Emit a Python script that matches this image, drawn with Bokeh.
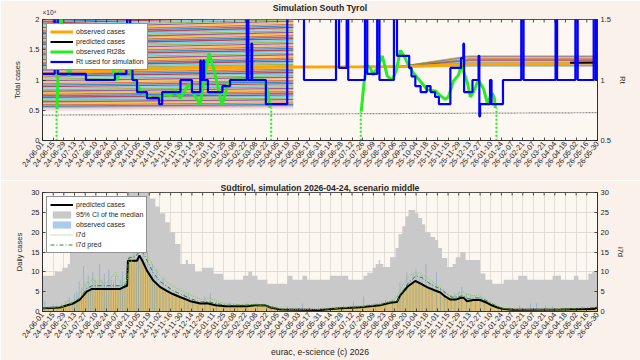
import math
import pandas as pd
from bokeh.plotting import figure
from bokeh.models import Range1d, LinearAxis, FixedTicker, Legend, LegendItem, Label
from bokeh.layouts import column
from bokeh.embed import file_html
from bokeh.resources import INLINE

FONT = "Liberation Sans"
TXT = "#262626"
OUTER = "#FAF1EA"
INNER = "#FDF7F2"
MATLAB = ["#0072BD", "#D95319", "#EDB120", "#7E2F8E", "#77AC30", "#4DBEEE", "#A2142F"]

# ---------------- data (x values are days since start_date) ----------------
start_date = pd.Timestamp("2024-06-01")
tick_labels = ["24-06-01", "24-06-15", "24-06-29", "24-07-13", "24-07-27", "24-08-10", "24-08-24",
               "24-09-07", "24-09-21", "24-10-05", "24-10-19", "24-11-02", "24-11-16", "24-11-30",
               "24-12-14", "24-12-28", "25-01-11", "25-01-25", "25-02-08", "25-02-22", "25-03-08",
               "25-03-22", "25-04-05", "25-04-19", "25-05-03", "25-05-17", "25-05-31", "25-06-14",
               "25-06-28", "25-07-12", "25-07-26", "25-08-09", "25-08-23", "25-09-06", "25-09-20",
               "25-10-04", "25-10-18", "25-11-01", "25-11-15", "25-11-29", "25-12-13", "25-12-27",
               "26-01-10", "26-01-24", "26-02-07", "26-02-21", "26-03-07", "26-03-21", "26-04-04",
               "26-04-18", "26-05-02", "26-05-16", "26-05-30"]
tick_pos = [int((pd.Timestamp("20" + t) - start_date).days) for t in tick_labels]
last_day = tick_pos[-1]

# top panel: simulated total-case ensemble (x 10^4), first block
ens_end_day = 329
ens_start = [0.565, 0.59, 0.615, 0.64, 0.665, 0.69, 0.715, 0.74, 0.765, 0.79, 0.815, 0.84, 0.865, 0.89,
             0.915, 0.94, 0.965, 0.99, 1.015, 1.04, 1.065, 1.09, 1.115, 1.14, 1.165, 1.19, 1.215, 1.24,
             1.265, 1.29, 1.315, 1.34, 1.365, 1.39, 1.415, 1.44, 1.465, 1.49, 1.515, 1.54, 1.565, 1.59,
             1.615, 1.64, 1.665, 1.69, 1.715, 1.74, 1.765, 1.79, 1.815, 1.84, 1.865, 1.89, 1.915, 1.94,
             1.965, 1.99, 2.015, 2.04]
ens_end = [0.595, 0.622, 0.648, 0.675, 0.701, 0.728, 0.754, 0.781, 0.807, 0.834, 0.860, 0.887, 0.913,
           0.940, 0.966, 0.993, 1.019, 1.046, 1.072, 1.099, 1.125, 1.152, 1.178, 1.205, 1.231, 1.258,
           1.284, 1.311, 1.337, 1.364, 1.390, 1.417, 1.443, 1.470, 1.496, 1.523, 1.549, 1.576, 1.602,
           1.629, 1.655, 1.682, 1.708, 1.735, 1.761, 1.788, 1.814, 1.841, 1.867, 1.894, 1.920, 1.947,
           1.973, 2.000, 2.026, 2.053, 2.079, 2.106, 2.132, 2.159]
low_start = [0.50, 0.52, 0.545]
low_end = [0.53, 0.555, 0.575]
low_colors = ["#F3E3E3", "#EBCFCF", "#D8A5A8"]
# second ensemble fan (x 10^4)
fan_day = [470, 560, 728]
fan_start = 1.225
fan_end = [1.235, 1.25, 1.265, 1.28, 1.295, 1.31, 1.325, 1.34, 1.355, 1.37, 1.385, 1.40]

obs_total_day = [0, 40, 75, 140, 206, 329, 420, 480, 560, 692]
obs_total_val = [1.08, 1.12, 1.15, 1.18, 1.205, 1.215, 1.22, 1.225, 1.255, 1.265]
pred_total_day = [692, 728]
pred_total_val = [1.285, 1.29]
ref_total_day = [0, 728]
ref_total_val = [0.42, 0.46]

rt_day = [0, 16, 20, 57, 95, 110, 111, 115, 118, 124, 137, 153, 157, 181, 196, 207, 208, 211, 212,
          217, 236, 246, 268, 270, 274, 275, 293, 321, 343, 385, 389, 399, 401, 423, 426, 439, 442,
          461, 465, 481, 484, 489, 496, 504, 509, 515, 520, 535, 549, 552, 553, 564, 572, 573, 574,
          587, 589, 604, 628, 631, 673, 675, 699, 702, 723, 726, 728]
rt_val = [1.05, 1.6, 1.05, 1.0, 1.05, 1.1, 1.6, 1.1, 1.0, 0.9, 0.85, 0.8, 0.9, 1.0, 0.9, 1.16, 1.0,
          1.16, 1.0, 0.9, 0.95, 1.0, 1.6, 1.0, 1.3, 1.0, 0.8, 1.6, 1.0, 1.6, 1.1, 1.6, 1.0, 1.6, 1.05,
          1.6, 1.0, 1.6, 1.2, 1.1, 1.03, 0.95, 0.9, 0.95, 0.9, 0.86, 0.8, 1.1, 1.18, 1.3, 0.9, 1.0,
          1.2, 0.7, 0.8, 1.0, 0.8, 1.0, 1.6, 1.0, 1.6, 1.0, 1.6, 1.0, 1.6, 1.0, 1.0]

rt28_day_a = [19, 21.7, 24.3, 29.5, 34.8, 40, 46.6, 55.8, 62.4, 70.2, 82.1, 88.6, 93.9, 97.8, 101.7,
              107, 112.2, 120.1, 128, 135.8, 143.7, 151.6, 160.8, 168.7, 174, 180.5, 188.4, 193.6,
              198.9, 206.8, 213.3, 218.6, 225.1, 235.6, 243.5, 248.8, 259.3, 279, 290.8, 294.8, 298.7]
rt28_val_a = [0.76, 1.3, 1.55, 1.2, 1.03, 1.15, 1.3, 1.25, 1.1, 1.3, 1.35, 1.2, 1.05, 1.0, 1.08,
              1.25, 1.12, 1.0, 0.92, 0.87, 0.85, 0.85, 0.88, 0.87, 0.92, 0.85, 0.93, 0.97, 0.88, 0.795,
              1.05, 1.22, 1.08, 0.795, 0.975, 1.0, 1.0, 1.0, 1.0, 0.92, 0.77]
rt28_day_b = [418.1, 422.1, 426, 430, 433.9, 440.5, 445.7, 452.3, 458.9, 464.1, 469.4, 475.9, 479.9,
              486.4, 495.6, 504.8, 515.3, 521.9, 528.4, 532.4, 538.9, 545.5, 549.4, 553.4, 557.3,
              561.2, 565.2, 571.7, 578.3, 583.5, 587.5, 590.1, 592.7, 594]
rt28_val_b = [0.74, 1.0, 1.12, 1.1, 1.04, 1.12, 1.2, 1.03, 1.0, 1.08, 1.246, 1.18, 1.12, 1.06, 0.99,
              0.92, 0.91, 0.87, 0.84, 0.86, 0.99, 1.04, 1.12, 1.05, 0.98, 0.86, 0.9, 1.0, 0.93, 0.81,
              0.86, 0.89, 0.85, 0.77]
rt28_gap_day = [18.5, 300, 417.5, 595.5]
rt28_gap_top = [0.76, 0.77, 0.74, 0.77]

# bottom panel: daily cases
ci_day = [0, 16, 26, 33, 36, 39, 43, 49, 58, 75, 93, 102, 111, 141, 148, 154, 161, 167, 174, 181,
          188, 191, 200, 209, 224, 237, 263, 270, 275, 282, 295, 321, 328, 341, 347, 377, 401, 421,
          426, 433, 437, 441, 443, 447, 456, 463, 467, 472, 476, 480, 489, 493, 498, 502, 509, 515,
          519, 524, 531, 538, 542, 548, 555, 574, 581, 590, 605, 624, 636, 669, 680, 697, 703, 716,
          721, 728]
ci_upper = [9, 10, 11, 12, 15, 17, 18.7, 19.5, 20.6, 21.6, 22.9, 26, 31, 28.5, 26.5, 24.8, 22.5, 20,
            17, 12, 13, 12, 10, 11, 9.5, 8, 9, 10, 9, 8, 7, 9, 8, 9, 8, 9, 8, 9, 9.8, 11, 12, 13, 12,
            11.2, 13.7, 16, 19.5, 21.5, 24, 25.6, 24.8, 23.6, 22, 20, 18.8, 18, 16, 13.5, 11.2, 12,
            13.7, 15, 13, 9.6, 8, 7, 8, 9, 8, 9, 8, 9, 8, 9.5, 10, 10]

pred_day = [0, 23, 40, 49, 58, 65, 102, 108, 111, 112, 124, 127, 131, 137, 145, 154, 163, 171, 181,
            194, 207, 216, 227, 240, 268, 279, 292, 299, 312, 364, 391, 417, 443, 456, 465, 469, 479,
            489, 496, 505, 515, 522, 528, 535, 542, 548, 552, 557, 565, 574, 583, 590, 597, 605, 618,
            680, 723, 728]
pred_val = [0.8, 1.0, 2.0, 3.0, 5.0, 5.7, 5.7, 6.3, 6.5, 12.8, 12.8, 14.1, 12.8, 10.3, 7.9, 6.2, 5.2,
            4.4, 3.6, 2.6, 2.0, 2.1, 1.6, 1.3, 1.3, 1.6, 1.5, 1.0, 0.5, 0.4, 0.8, 1.1, 1.6, 2.2, 2.4,
            4.0, 6.3, 7.7, 7.0, 6.1, 5.3, 4.8, 3.8, 3.0, 3.0, 3.4, 3.5, 2.6, 2.9, 2.9, 2.2, 1.5, 1.0,
            0.6, 0.45, 0.5, 0.6, 1.0]

obs_daily = [(3, 2.5), (8, 1.2), (14, 1.8), (19, 1.5), (25, 2.0), (30, 2.5), (35, 3.5), (39, 2.8),
             (42, 4.5), (45, 5.0), (48, 7.5), (51, 6.0), (54, 11.5), (57, 7.0), (60, 9.0), (63, 6.5),
             (66, 10.0), (69, 8.0), (72, 7.0), (75, 12.0), (78, 8.0), (81, 9.5), (84, 6.5),
             (87, 10.5), (90, 8.0), (93, 7.5), (96, 9.0), (99, 6.5), (102, 8.0), (105, 10.0),
             (108, 7.0), (111, 9.0), (114, 14.0), (117, 12.0), (120, 16.5), (123, 13.5), (126, 17.0),
             (129, 14.0), (132, 16.0), (135, 12.5), (138, 15.0), (141, 11.0), (144, 12.0), (147, 9.0),
             (150, 10.5), (154, 7.5), (158, 8.5), (162, 6.0), (166, 6.5), (170, 5.0), (175, 5.5),
             (180, 4.0), (186, 4.5), (191, 4.4), (197, 3.0), (204, 2.5), (213, 3.8), (220, 4.7),
             (228, 2.5), (238, 2.0), (246, 2.3), (256, 1.8), (268, 2.0), (282, 1.5), (300, 1.0),
             (321, 1.3), (341, 2.0), (362, 1.0), (377, 1.0), (395, 1.5), (408, 2.5), (421, 3.8),
             (437, 2.0), (450, 2.9), (459, 3.0), (466, 4.0), (469, 7.5), (473, 6.0), (478, 10.0),
             (482, 8.0), (486, 9.5), (490, 10.8), (494, 8.5), (498, 9.0), (503, 12.0), (507, 7.5),
             (511, 7.0), (517, 10.0), (522, 6.0), (527, 5.0), (531, 3.5), (536, 4.0), (541, 4.5),
             (546, 5.0), (550, 6.2), (556, 4.5), (562, 4.2), (568, 4.0), (574, 3.8), (580, 3.0),
             (588, 2.0), (598, 1.2), (612, 1.0), (626, 1.5), (640, 2.0), (648, 2.0), (660, 1.5),
             (669, 1.3), (690, 0.8)]
obs_day = [d for d, v in obs_daily]
obs_val = [v for d, v in obs_daily]

i7d_day = [0, 10, 20, 28, 33, 38, 45, 52, 58, 62, 66, 70, 75, 80, 86, 92, 96, 100, 105, 110, 114, 118,
           122, 126, 130, 134, 138, 145, 154, 163, 171, 181, 190, 200, 210, 218, 224, 235, 250, 265,
           280, 295, 310, 340, 360, 380, 400, 420, 440, 455, 462, 468, 475, 482, 488, 495, 502, 510,
           518, 526, 533, 540, 546, 552, 558, 565, 572, 578, 585, 592, 598, 605, 615, 650, 692]
i7d_val = [0.8, 1.0, 1.2, 1.6, 2.8, 2.0, 3.5, 5.5, 7.5, 7.0, 8.5, 7.2, 8.0, 7.0, 7.5, 9.0, 10.0, 8.0,
           7.2, 7.5, 10.0, 14.0, 16.5, 15.5, 17.0, 16.0, 14.0, 11.5, 9.0, 7.5, 6.4, 5.4, 4.6, 3.6, 3.0,
           3.4, 3.0, 2.2, 1.9, 1.7, 1.7, 1.2, 0.7, 0.5, 0.6, 1.0, 1.2, 1.5, 2.0, 2.6, 3.0, 5.0, 7.5,
           9.0, 9.8, 9.6, 8.8, 7.8, 6.5, 5.2, 4.0, 3.8, 4.8, 5.0, 4.3, 4.0, 4.2, 3.5, 2.5, 1.8, 1.2,
           0.8, 0.6, 0.5, 0.6]
i7dp_day = [0, 25, 40, 50, 58, 65, 102, 110, 113, 122, 128, 133, 138, 146, 155, 164, 172, 182, 195,
            207, 216, 228, 240, 268, 280, 292, 300, 315, 365, 392, 418, 444, 458, 466, 470, 480, 490,
            498, 507, 516, 524, 530, 537, 545, 552, 558, 566, 575, 584, 591, 598, 606, 620, 680, 728]
i7dp_val = [0.9, 1.1, 2.3, 3.5, 5.8, 6.5, 6.5, 7.0, 13.5, 13.8, 15.5, 14.5, 12.5, 9.5, 7.5, 6.2, 5.2,
            4.3, 3.2, 2.4, 2.5, 2.0, 1.6, 1.6, 1.8, 1.7, 1.2, 0.6, 0.5, 0.9, 1.2, 1.8, 2.5, 2.8, 4.5,
            7.2, 9.0, 8.5, 7.2, 6.2, 5.5, 4.5, 3.6, 3.7, 4.0, 3.2, 3.4, 3.4, 2.6, 1.8, 1.2, 0.7, 0.5,
            0.6, 1.0]

y_top_ticks = [0, 0.5, 1, 1.5, 2]          # x 10^4
rt_ticks = [0.5, 1, 1.5]
daily_ticks = [0, 5, 10, 15, 20, 25, 30]

W = 640
BL, BR = 42, 43


def style_axis(ax, label_size="7.5px"):
    ax.major_label_text_font = FONT
    ax.major_label_text_font_size = label_size
    ax.major_label_text_color = TXT
    ax.axis_line_color = TXT
    ax.axis_line_width = 0.8
    ax.major_tick_line_color = TXT
    ax.major_tick_line_width = 0.8
    ax.major_tick_in = 3
    ax.major_tick_out = 0
    ax.minor_tick_line_color = None
    ax.major_label_standoff = 3
    ax.axis_label_text_font = FONT
    ax.axis_label_text_font_size = "7.5px"
    ax.axis_label_text_font_style = "normal"
    ax.axis_label_text_color = TXT
    ax.axis_label_standoff = 4


def setup_xaxis(p):
    ax = p.xaxis[0]
    ax.ticker = FixedTicker(ticks=tick_pos)
    ax.major_label_overrides = {t: lab for t, lab in zip(tick_pos, tick_labels)}
    ax.major_label_orientation = 0.9
    style_axis(ax)
    ax.major_label_standoff = 2


def top_ticks(p, ytop):
    # tick marks on the upper box edge (half of each dash is clipped by the frame)
    p.scatter(tick_pos, [ytop] * len(tick_pos), marker="dash", angle=math.pi / 2, size=6,
              line_color=TXT, line_width=0.8)


def style_title(p, text):
    p.title.text = text
    p.title.align = "center"
    p.title.text_font = FONT
    p.title.text_font_size = "8.7px"
    p.title.text_font_style = "bold"
    p.title.text_color = TXT
    p.title.standoff = 0
    p.title.offset = 0


def style_legend(leg):
    leg.location = "top_left"
    leg.label_text_font = FONT
    leg.label_text_font_size = "7px"
    leg.label_text_color = TXT
    leg.label_height = 9
    leg.glyph_height = 9
    leg.glyph_width = 23
    leg.label_standoff = 3
    leg.spacing = 1
    leg.padding = 3
    leg.margin = 4
    leg.border_line_color = TXT
    leg.border_line_width = 0.6
    leg.background_fill_color = "white"
    leg.background_fill_alpha = 1.0


# ---------------- top figure ----------------
top = figure(width=W, height=180, x_range=Range1d(0, last_day), y_range=Range1d(0, 20000),
             output_backend="svg", toolbar_location=None,
             min_border_left=BL, min_border_right=BR, min_border_top=18, min_border_bottom=40,
             background_fill_color=INNER, border_fill_color=OUTER)
style_title(top, "Simulation South Tyrol")
top.outline_line_color = TXT
top.outline_line_width = 0.8
top.grid.visible = False
top.extra_y_ranges = {"rt": Range1d(0.5, 1.5)}

setup_xaxis(top)
yax = top.yaxis[0]
yax.ticker = FixedTicker(ticks=[v * 1e4 for v in y_top_ticks])
yax.major_label_overrides = {v * 1e4: ("%g" % v) for v in y_top_ticks}
yax.axis_label = "Total cases"
style_axis(yax)
rax = LinearAxis(y_range_name="rt", axis_label="Rt", ticker=FixedTicker(ticks=rt_ticks),
                 major_label_overrides={v: ("%g" % v) for v in rt_ticks})
style_axis(rax)
top.add_layout(rax, "right")

top.multi_line([[0, ens_end_day] for _ in low_start], [[s * 1e4, e * 1e4] for s, e in zip(low_start, low_end)],
               line_color=low_colors, line_width=1.5)
ens_colors = [MATLAB[i % len(MATLAB)] for i in range(len(ens_start))]
top.multi_line([[0, ens_end_day] for _ in ens_start], [[s * 1e4, e * 1e4] for s, e in zip(ens_start, ens_end)],
               line_color=ens_colors, line_width=1.4, line_alpha=0.78)
fan_colors = [MATLAB[i % len(MATLAB)] for i in range(len(fan_end))]
top.multi_line([fan_day for _ in fan_end], [[fan_start * 1e4, e * 1e4, e * 1e4] for e in fan_end],
               line_color=fan_colors, line_width=1.2, line_alpha=0.6)

top.line(ref_total_day, [v * 1e4 for v in ref_total_val], line_color="#8C8C8C", line_width=1.2,
         line_dash="2 1")
r_obs = top.line(obs_total_day, [v * 1e4 for v in obs_total_val], line_color="#FFA500", line_width=3)
r_pred = top.line(pred_total_day, [v * 1e4 for v in pred_total_val], line_color="black", line_width=2)

top.segment(x0=rt28_gap_day, y0=[0.3] * len(rt28_gap_day), x1=rt28_gap_day, y1=rt28_gap_top,
            line_color="#22EE22", line_width=2, line_dash="2 2", y_range_name="rt")
r_g = top.line(rt28_day_a, rt28_val_a, line_color="#22EE22", line_width=3, y_range_name="rt")
top.line(rt28_day_b, rt28_val_b, line_color="#22EE22", line_width=3, y_range_name="rt")
r_rt = top.step(rt_day, rt_val, mode="after", line_color="#0000FF", line_width=2.2, y_range_name="rt")
top_ticks(top, 20000)

leg_top = Legend(items=[LegendItem(label="observed cases", renderers=[r_obs]),
                        LegendItem(label="predicted cases", renderers=[r_pred]),
                        LegendItem(label="observed Rt28s", renderers=[r_g]),
                        LegendItem(label="Rt used for simulation", renderers=[r_rt])])
style_legend(leg_top)
top.add_layout(leg_top)

top.add_layout(Label(x=0, y=4, x_units="screen", y_units="screen", text="\u00d710\u2074",
                     text_align="left", text_baseline="bottom", text_font=FONT,
                     text_font_size="6.5px", text_color=TXT), "above")

# ---------------- bottom figure ----------------
bot = figure(width=W, height=180, x_range=Range1d(0, last_day), y_range=Range1d(0, 30),
             output_backend="svg", toolbar_location=None,
             min_border_left=BL, min_border_right=BR, min_border_top=9, min_border_bottom=49,
             background_fill_color=INNER, border_fill_color=OUTER)
style_title(bot, "S\u00fcdtirol, simulation 2026-04-24, scenario middle")
bot.outline_line_color = TXT
bot.outline_line_width = 0.8
bot.extra_y_ranges = {"i7d": Range1d(0, 30)}
setup_xaxis(bot)
bot.xaxis[0].axis_label = "eurac, e-science (c) 2026"
bot.xaxis[0].axis_label_text_font_size = "8.7px"
bot.xaxis[0].axis_label_standoff = 4
byax = bot.yaxis[0]
byax.ticker = FixedTicker(ticks=daily_ticks)
byax.axis_label = "Daily cases"
style_axis(byax)
brax = LinearAxis(y_range_name="i7d", axis_label="i7d", ticker=FixedTicker(ticks=daily_ticks))
style_axis(brax)
bot.add_layout(brax, "right")
bot.xgrid.ticker = FixedTicker(ticks=tick_pos)
bot.ygrid.ticker = FixedTicker(ticks=daily_ticks)
bot.grid.grid_line_color = "#DCD6D1"
bot.grid.grid_line_width = 0.8

bot.varea_step(x=ci_day, y1=[0] * len(ci_day), y2=ci_upper, step_mode="after", fill_color="#C9C9C9")
r_ci = bot.varea(x=[0, 0], y1=[0, 0], y2=[0, 0], fill_color="#C9C9C9")
bot.varea(x=pred_day, y1=[0] * len(pred_day), y2=pred_val, fill_color="#EDB120", fill_alpha=0.5)
r_bars = bot.vbar(x=obs_day, top=obs_val, width=1.0, fill_color="#3F8FD0", fill_alpha=0.45,
                  line_color=None)
r_bpred = bot.line(pred_day, pred_val, line_color="black", line_width=2)
r_i7d = bot.line(i7d_day, i7d_val, line_color="#8CCB5E", line_width=1, line_dash="1 1")
r_i7dp = bot.line(i7dp_day, i7dp_val, line_color="#2F8A1F", line_width=1, line_dash="4 2 1 2")
top_ticks(bot, 30)

leg_bot = Legend(items=[LegendItem(label="predicted cases", renderers=[r_bpred]),
                        LegendItem(label="95% CI of the median", renderers=[r_ci]),
                        LegendItem(label="observed cases", renderers=[r_bars]),
                        LegendItem(label="i7d", renderers=[r_i7d]),
                        LegendItem(label="i7d pred", renderers=[r_i7dp])])
style_legend(leg_bot)
bot.add_layout(leg_bot)

layout = column(top, bot)
open("out.html", "w").write(file_html(layout, INLINE))
